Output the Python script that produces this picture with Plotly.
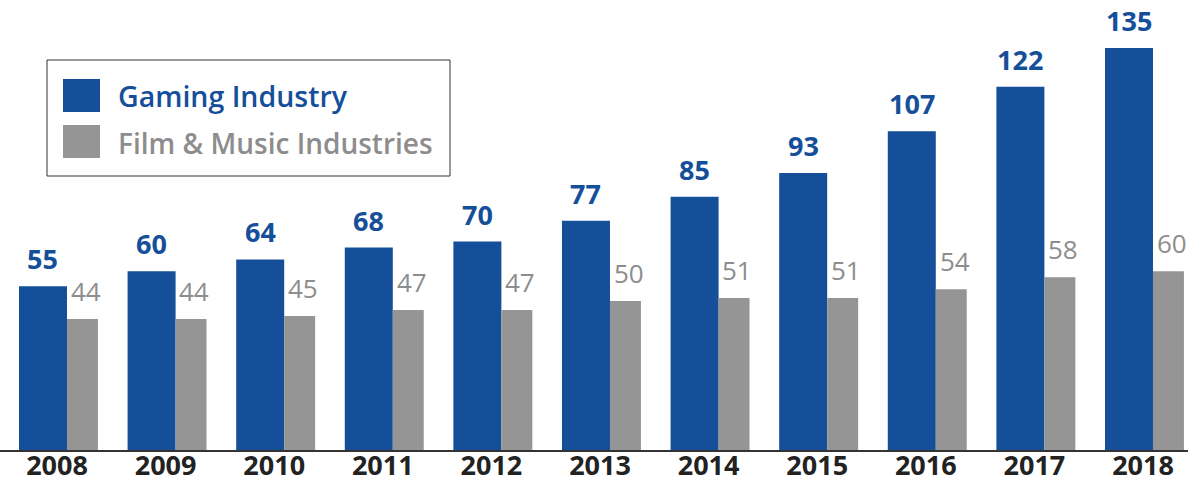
import plotly.graph_objects as go

years = ["2008", "2009", "2010", "2011", "2012", "2013", "2014", "2015", "2016", "2017", "2018"]
gaming = [55, 60, 64, 68, 70, 77, 85, 93, 107, 122, 135]
film_music = [44, 44, 45, 47, 47, 50, 51, 51, 54, 58, 60]
series_names = ["Gaming Industry", "Film & Music Industries"]

BLUE = "#154f9a"
GRAY = "#959595"
GRAY_TXT = "#8d8d8d"
FONT = "Open Sans"

W, H = 1188, 485
MT, MB = 0, 35
PH = H - MT - MB

idx = list(range(len(years)))

blue_off, blue_w = -0.35, 0.442
gray_off, gray_w = 0.092, 0.285

fig = go.Figure()
fig.add_trace(go.Bar(x=idx, y=gaming, name=series_names[0], marker_color=BLUE,
                     offset=blue_off, width=blue_w, marker_line_width=0))
fig.add_trace(go.Bar(x=idx, y=film_music, name=series_names[1], marker_color=GRAY,
                     offset=gray_off, width=gray_w, marker_line_width=0))

ann = []
for i, v in zip(idx, gaming):
    ann.append(dict(x=i + blue_off + blue_w / 2, y=v, text=str(v), showarrow=False,
                    yanchor="bottom", xanchor="center", yshift=7,
                    font=dict(family=FONT, size=27, color=BLUE, weight=700)))
for i, v in zip(idx, film_music):
    ann.append(dict(x=i + gray_off + gray_w / 2 + 0.03, y=v, text=str(v), showarrow=False,
                    yanchor="bottom", xanchor="center", yshift=8,
                    font=dict(family=FONT, size=26, color=GRAY_TXT, weight=500)))

def px_x(p):
    return p / W

def px_y(p):
    return 1 - (p - MT) / PH

shapes = [
    dict(type="rect", xref="paper", yref="paper", x0=px_x(47), x1=px_x(450), y0=px_y(176), y1=px_y(60),
         line=dict(color="#333333", width=1), fillcolor="white", layer="below"),
    dict(type="rect", xref="paper", yref="paper", x0=px_x(63), x1=px_x(100), y0=px_y(112), y1=px_y(79),
         line=dict(width=0), fillcolor=BLUE),
    dict(type="rect", xref="paper", yref="paper", x0=px_x(63), x1=px_x(100), y0=px_y(158), y1=px_y(125),
         line=dict(width=0), fillcolor=GRAY),
]
ann.append(dict(xref="paper", yref="paper", x=px_x(116), y=px_y(96), text=series_names[0],
                showarrow=False, xanchor="left", yanchor="middle",
                font=dict(family=FONT, size=28.5, color=BLUE, weight=600)))
ann.append(dict(xref="paper", yref="paper", x=px_x(116), y=px_y(143), text=series_names[1],
                showarrow=False, xanchor="left", yanchor="middle",
                font=dict(family=FONT, size=28, color=GRAY_TXT, weight=600)))

fig.update_layout(
    width=W, height=H,
    margin=dict(l=0, r=0, t=MT, b=MB, pad=0, autoexpand=False),
    paper_bgcolor="white", plot_bgcolor="white",
    barmode="overlay", showlegend=False,
    annotations=ann, shapes=shapes,
    xaxis=dict(range=[-57 / 108.6, (W - 57) / 108.6], tickvals=idx, ticktext=years,
               automargin=False, ticklabelstandoff=-9,
               showgrid=False, zeroline=False, showline=True, linecolor="#333333", linewidth=2,
               ticks="", tickfont=dict(family=FONT, size=27, color="#222222", weight=700)),
    yaxis=dict(range=[0, PH / 2.978], visible=False, showgrid=False, zeroline=False,
               automargin=False),
)

fig.write_html("out.html", config={"displayModeBar": False},
               post_script="document.body.style.margin='0px';")
